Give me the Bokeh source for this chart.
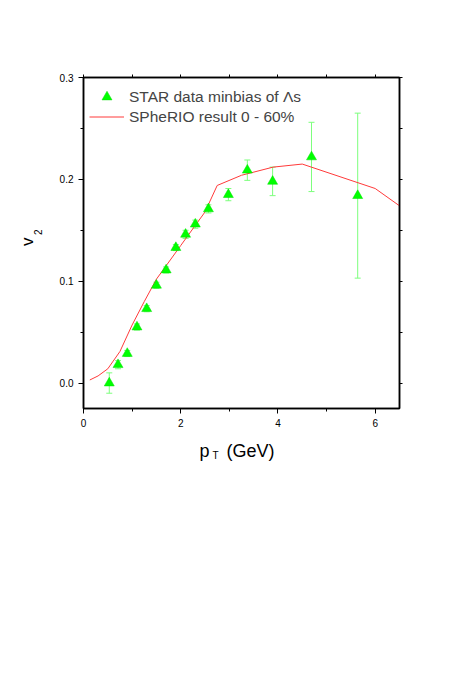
import math
from bokeh.plotting import figure
from bokeh.models import (ColumnDataSource, Whisker, TeeHead, LinearAxis, FixedTicker,
                          PrintfTickFormatter, Label, Legend, LegendItem, Range1d)
from bokeh.embed import file_html
from bokeh.resources import INLINE

# STAR data (minbias Lambda)
star_pt = [0.53, 0.71, 0.90, 1.10, 1.30, 1.50, 1.70, 1.90, 2.10, 2.30, 2.57, 2.98, 3.37, 3.89, 4.69, 5.64]
star_v2 = [0.000, 0.018, 0.029, 0.055, 0.073, 0.096, 0.111, 0.133, 0.146, 0.156, 0.171, 0.185, 0.209, 0.198, 0.222, 0.184]
star_err = [0.010, 0.004, 0.003, 0.003, 0.003, 0.003, 0.003, 0.003, 0.004, 0.004, 0.004, 0.006, 0.010, 0.014, 0.034, 0.081]

# SPheRIO curve
sph_pt = [0.13, 0.30, 0.50, 0.75, 1.00, 1.25, 1.50, 2.00, 2.50, 2.75, 3.25, 3.90, 4.50, 6.00, 6.50]
sph_v2 = [0.003, 0.007, 0.014, 0.031, 0.057, 0.080, 0.102, 0.135, 0.168, 0.194, 0.204, 0.212, 0.215, 0.191, 0.174]

x_ticks = [0, 2, 4, 6]
y_ticks = [0.0, 0.1, 0.2, 0.3]

XMIN, XMAX, YMIN, YMAX = 0.0, 6.5, -0.025, 0.3
FW, FH = 316, 331
BL, BR, BT, BB = 83, 56, 77, 250
FONT = "Liberation Sans"

p = figure(frame_width=FW, frame_height=FH, min_border_left=BL, min_border_right=BR,
           min_border_top=BT, min_border_bottom=BB,
           x_range=Range1d(XMIN, XMAX), y_range=Range1d(YMIN, YMAX),
           output_backend="svg", toolbar_location=None, x_axis_location=None, y_axis_location=None)
p.grid.visible = False
p.background_fill_color = "white"
p.border_fill_color = "white"
p.outline_line_color = "black"
p.outline_line_width = 1.5

def style_axis(ax, ticks, minor, labels=True, fmt=None):
    ax.ticker = FixedTicker(ticks=ticks, minor_ticks=minor)
    ax.axis_line_color = "black"
    ax.axis_line_width = 1.5
    ax.major_tick_line_color = "black"
    ax.minor_tick_line_color = "black"
    ax.major_tick_in = 0
    ax.minor_tick_in = 0
    ax.major_tick_out = 5
    ax.minor_tick_out = 3
    if labels:
        ax.major_label_text_font = FONT
        ax.major_label_text_font_size = "10px"
        ax.major_label_text_color = "black"
        ax.major_label_standoff = 5
        if fmt:
            ax.formatter = PrintfTickFormatter(format=fmt)
    else:
        ax.major_label_text_color = None
        ax.major_label_text_font_size = "1px"
        ax.major_tick_out = 3

xb = LinearAxis()
style_axis(xb, x_ticks, [1, 3, 5], fmt="%d")
p.add_layout(xb, "below")
yl = LinearAxis()
style_axis(yl, y_ticks, [0.05, 0.15, 0.25], fmt="%.1f")
p.add_layout(yl, "left")
xt = LinearAxis()
style_axis(xt, [0, 1, 2, 3, 4, 5, 6], [], labels=False)
p.add_layout(xt, "above")
yr = LinearAxis()
style_axis(yr, [0.0, 0.05, 0.1, 0.15, 0.2, 0.25, 0.3], [], labels=False)
p.add_layout(yr, "right")

src = ColumnDataSource(dict(x=star_pt, y=star_v2,
                            lo=[v - e for v, e in zip(star_v2, star_err)],
                            hi=[v + e for v, e in zip(star_v2, star_err)]))
ecol = "#7dff7d"
w = Whisker(source=src, base="x", lower="lo", upper="hi", line_color=ecol, line_width=1,
            lower_head=TeeHead(size=6, line_color=ecol, line_width=1),
            upper_head=TeeHead(size=6, line_color=ecol, line_width=1))
p.add_layout(w)

line_r = p.line(sph_pt, sph_v2, line_color="#ff3a3a", line_width=1)
tri_r = p.scatter("x", "y", source=src, marker="triangle", size=10,
                  fill_color="#00ff00", line_color="#00e000", line_width=0.5)

def make_legend(label, rend, ypos):
    return Legend(items=[LegendItem(label=label, renderers=[rend])],
                  location=(6, ypos), orientation="vertical",
                  glyph_width=35, glyph_height=25, label_height=20, spacing=0,
                  padding=0, margin=0, label_standoff=5,
                  label_text_font=FONT, label_text_font_size="15.5px",
                  border_line_color=None, background_fill_color=None)

p.add_layout(make_legend("STAR data minbias of \u039bs", tri_r, 299), "center")
p.add_layout(make_legend("SPheRIO result 0 - 60%", line_r, 279), "center")

# Axis titles: positions given in canvas pixels, mapped through the plot's scales.
# They live in the side panels so that they are not clipped to the frame.
def dx(px):
    return XMIN + (px - BL) / FW * (XMAX - XMIN)

def dy(py):
    return YMAX - (py - BT) / FH * (YMAX - YMIN)

def lab(px, py, text, size, place, angle=0.0):
    p.add_layout(Label(x=dx(px), y=dy(py), text=text, text_font=FONT, text_font_size=size,
                       text_color="black", text_align="left", text_baseline="alphabetic",
                       angle=angle), place)

lab(199, 450, "p", "18px", "below")
lab(212, 455, "T", "10px", "below")
lab(226, 450, "(GeV)", "18px", "below")
lab(27, 245.5, "v", "17px", "left", math.pi / 2)
lab(37.5, 234.5, "2", "10px", "left", math.pi / 2)

open("out.html", "w").write(file_html(p, INLINE))
